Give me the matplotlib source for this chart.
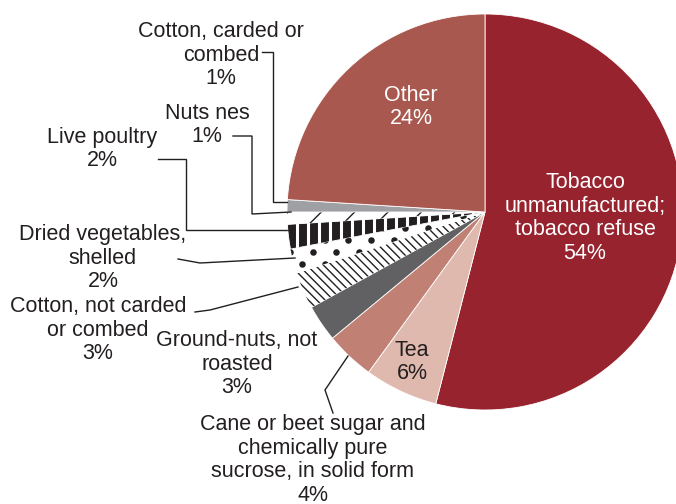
import matplotlib
matplotlib.use("Agg")
import matplotlib.pyplot as plt
import numpy as np

plt.rcParams['font.family'] = ['Liberation Sans', 'DejaVu Sans']
plt.rcParams['hatch.linewidth'] = 1.0

categories = ["Tobacco unmanufactured; tobacco refuse", "Tea",
              "Cane or beet sugar and chemically pure sucrose, in solid form",
              "Ground-nuts, not roasted", "Cotton, not carded or combed",
              "Dried vegetables, shelled", "Live poultry", "Nuts nes",
              "Cotton, carded or combed", "Other"]
shares = [54, 6, 4, 3, 3, 2, 2, 1, 1, 24]
labels = ["Tobacco\nunmanufactured;\ntobacco refuse", "Tea",
          "Cane or beet sugar and\nchemically pure\nsucrose, in solid form",
          "Ground-nuts, not\nroasted", "Cotton, not carded\nor combed",
          "Dried vegetables,\nshelled", "Live poultry", "Nuts nes",
          "Cotton, carded or\ncombed", "Other"]

faces = ["#97232e", "#dfb9ad", "#c18074", "#616163", "white", "white",
         "#231f20", "white", "#9fa0a3", "#a9584f"]
hatches = [None, None, None, None, "\\\\\\\\", None, None, "/", None, None]
hatch_cols = [None, None, None, None, "#231f20", None, None, "#231f20", None, None]

W, H = 676, 504
CX, CY, R = 485, 212, 198

def P(x, y):
    return ((x - CX) / R, (CY - y) / R)

fig = plt.figure(figsize=(W / 100, H / 100), dpi=100)
ax = fig.add_axes([0, 0, 1, 1])
wedges, _ = ax.pie(shares, startangle=90, counterclock=False, radius=1.0,
                   colors=faces, wedgeprops=dict(linewidth=0.6, edgecolor="white"))
for w, h, hc in zip(wedges, hatches, hatch_cols):
    if h:
        w.set_hatch(h)
        w.set_edgecolor(hc)
        w.set_linewidth(0)

# dot texture for "Dried vegetables"
gx, gy = np.meshgrid(np.arange(0, 700, 23.0), np.arange(0, 504, 12.0))
gx = gx + (np.arange(gx.shape[0])[:, None] % 2) * 11.5
dx, dy = P(gx.ravel() + 3, gy.ravel())
dots = ax.scatter(dx, dy, s=22, color="#231f20", linewidths=0, zorder=3)
dots.set_clip_path(wedges[5])

# brick texture for "Live poultry"
vx = np.arange(0, 700, 11.0)
vl = ax.vlines((vx - CX) / R, -1.5, 1.5, colors="white", lw=2.2, zorder=3)
vl.set_clip_path(wedges[6])

ax.set_xlim((0 - CX) / R, (W - CX) / R)
ax.set_ylim((CY - H) / R, CY / R)
ax.set_aspect('auto')
ax.axis('off')

fs = 15.5
tc = "#231f20"

def lab(i, x, y, color=tc):
    ax.text(*P(x, y), f"{labels[i]}\n{shares[i]}%", ha="center", va="center",
            fontsize=fs, color=color, linespacing=1.17)

lab(0, 585, 218, "white")
lab(1, 412, 362)
lab(2, 313, 460)
lab(3, 237, 364)
lab(4, 98, 330)
lab(5, 103, 258)
lab(6, 102, 149)
lab(7, 207, 125)
lab(8, 221, 55)
lab(9, 411, 107, "white")

def conn(pts):
    xs, ys = zip(*[P(x, y) for x, y in pts])
    ax.plot(xs, ys, color=tc, lw=1.0, solid_joinstyle="miter")

conn([(262, 52), (273, 52), (273, 202), (287, 202)])
conn([(233, 136), (252, 136), (252, 214), (291, 212)])
conn([(158, 159), (186, 159), (186, 230), (290, 230)])
conn([(178, 259), (200, 263), (295, 258)])
conn([(195, 312), (210, 310), (298, 287)])
conn([(333, 413), (325, 390), (348, 356)])

fig.savefig("out.png", dpi=100)
